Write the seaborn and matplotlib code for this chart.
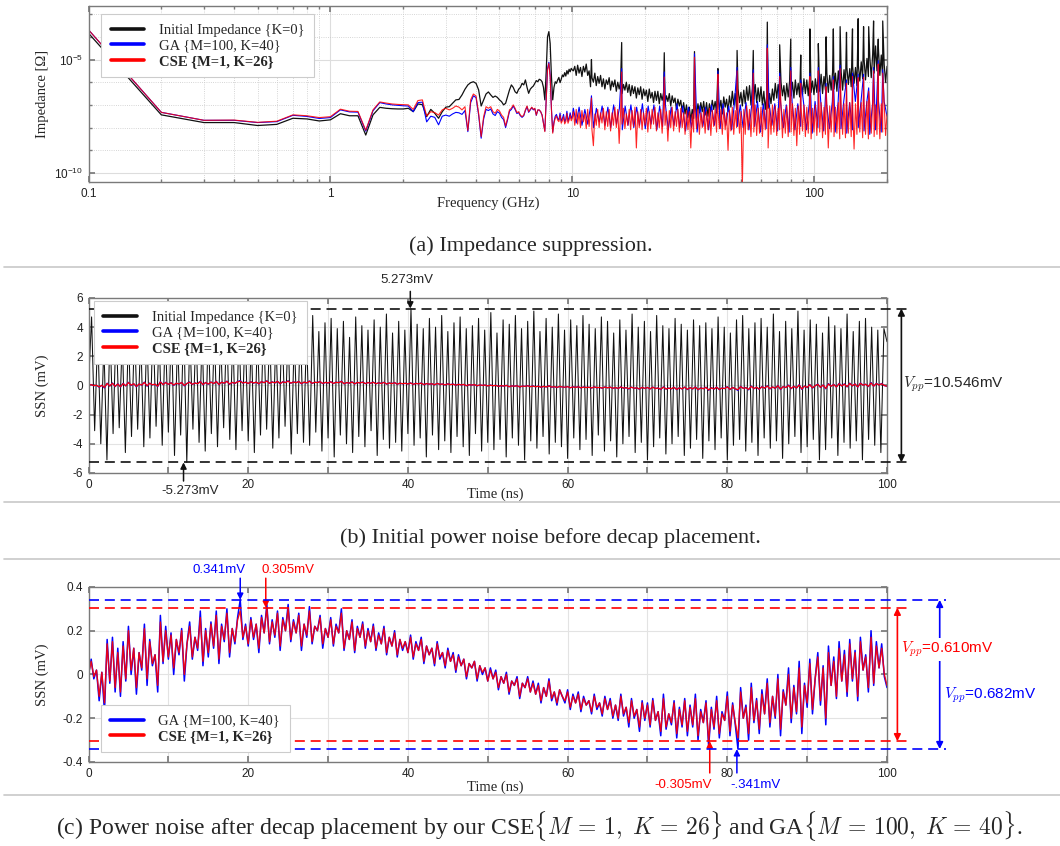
import numpy as np
import pandas as pd
import matplotlib
matplotlib.use("Agg")
import matplotlib.pyplot as plt
import seaborn as sns
from matplotlib.lines import Line2D
from matplotlib.ticker import FixedLocator, LogLocator, NullFormatter

# ---------------------------------------------------------------
# (a) impedance profile, values are log10(|Z| / ohm)
# ---------------------------------------------------------------
LOW_FREQ = [0.1, 0.2, 0.3, 0.4, 0.5, 0.6, 0.7, 0.8, 0.9, 1.0,
            1.1, 1.2, 1.3, 1.4, 1.5, 1.6, 1.7, 1.8, 1.9, 2.0]
LOW_INIT = [-3.84, -7.44, -7.78, -7.78, -7.91, -7.86, -7.59, -7.62, -7.71, -7.66,
            -7.39, -7.48, -7.48, -8.33, -7.44, -7.11, -7.15, -7.17, -7.18, -7.18]
LOW_GA = [-3.69, -7.33, -7.68, -7.68, -7.78, -7.74, -7.46, -7.51, -7.6, -7.56,
          -7.22, -7.31, -7.32, -8.16, -7.26, -6.9, -6.96, -7.0, -7.02, -7.04]
LOW_CSE = [-3.69, -7.33, -7.68, -7.67, -7.77, -7.72, -7.44, -7.48, -7.56, -7.52,
           -7.19, -7.28, -7.29, -8.12, -7.22, -6.87, -6.92, -6.96, -6.98, -6.99]

# 2.1 .. 10.0 GHz, 0.1 GHz step
MID_INIT = [-7.15, -7.3, -6.96, -6.99, -7.52, -7.2, -7.37, -7.59, -7.3, -7.1,
            -7.08, -6.93, -6.78, -6.76, -6.56, -6.31, -6.12, -6.02, -5.98, -6.05,
            -6.34, -7.05, -6.78, -6.52, -6.43, -6.56, -6.67, -6.61, -6.67, -6.78,
            -6.86, -7.0, -6.93, -6.64, -6.34, -6.12, -6.23, -6.42, -6.49, -6.31,
            -6.23, -6.05, -6.12, -5.9, -6.23, -6.49, -6.31, -6.23, -6.17, -6.05,
            -5.93, -5.98, -5.87, -5.9, -5.98, -6.23, -6.78, -5.54, -4.0, -3.77,
            -4.29, -5.76, -6.78, -6.23, -5.98, -6.05, -5.9, -5.79, -6.02, -5.87,
            -5.68, -5.76, -5.58, -5.73, -5.49, -5.64, -5.43, -5.54, -5.39, -5.46]
MID_GA = [-7.05, -7.3, -6.9, -6.88, -7.75, -7.5, -7.55, -7.88, -7.5, -7.45,
          -7.5, -7.4, -7.33, -7.35, -7.42, -7.25, -8.18, -6.9, -6.6, -6.68,
          -7.45, -8.47, -7.62, -7.2, -7.25, -7.18, -7.4, -7.47, -7.3, -7.36,
          -7.55, -7.65, -8.0, -7.66, -7.28, -7.2, -7.05, -7.2, -7.38, -7.34,
          -7.48, -7.55, -7.48, -7.25, -7.08, -7.33, -7.22, -7.12, -7.22, -7.17,
          -7.46, -7.23, -7.23, -7.3, -7.45, -7.8, -8.15, -6.75, -5.4, -5.12,
          -5.7, -7.18, -8.2, -7.75, -7.5, -7.42, -7.6, -7.66, -7.36, -7.72,
          -7.6, -7.42, -7.75, -7.64, -7.28, -7.72, -7.57, -7.35, -7.6, -7.5]
MID_CSE = [-7.0, -7.2, -6.81, -6.78, -7.49, -7.3, -7.34, -7.45, -7.22, -7.15,
           -7.22, -7.15, -7.05, -7.1, -7.22, -7.08, -8.13, -6.78, -6.52, -6.61,
           -7.37, -8.4, -7.52, -7.08, -7.15, -7.08, -7.3, -7.37, -7.2, -7.27,
           -7.45, -7.55, -7.93, -7.59, -7.22, -7.15, -7.0, -7.15, -7.34, -7.3,
           -7.45, -7.52, -7.45, -7.22, -7.05, -7.3, -7.2, -7.1, -7.2, -7.15,
           -7.45, -7.22, -7.22, -7.3, -7.45, -7.81, -8.18, -6.78, -5.46, -5.17,
           -5.76, -7.22, -8.25, -7.81, -7.59, -7.49, -7.67, -7.74, -7.45, -7.81,
           -7.7, -7.52, -7.84, -7.74, -7.37, -7.81, -7.67, -7.45, -7.7, -7.59]

# 10.1 .. 200 GHz, log spaced samples of the dense band
HIGH_INIT = [
    -5.5, -5.3, -5.7, -5.25, -5.6, -5.35, -5.75, -5.3, -5.55, -5.2,
    -5.7, -5.5, -6.2, -5.8, -6.0, -5.6, -6.15, -5.75, -6.05, -5.7,
    -6.2, -5.85, -6.3, -5.9, -6.1, -5.8, -6.35, -5.95, -6.2, -5.9,
    -6.4, -6.0, -6.3, -5.95, -6.5, -6.1, -6.35, -6.0, -6.45, -6.1,
    -6.6, -6.15, -6.5, -6.2, -6.7, -6.25, -6.55, -6.2, -6.75, -6.3,
    -6.6, -6.35, -6.85, -6.3, -6.7, -6.45, -6.9, -6.4, -6.8, -6.4,
    -6.95, -6.5, -6.8, -6.45, -7.0, -6.6, -6.85, -6.5, -7.05, -6.6,
    -6.9, -6.7, -7.2, -6.75, -7.05, -6.8, -7.3, -6.9, -7.4, -7.0,
    -7.55, -7.1, -7.7, -7.2, -7.6, -7.0, -7.45, -6.95, -7.35, -6.9,
    -7.3, -6.85, -7.45, -6.9, -7.5, -6.95, -7.3, -6.8, -7.2, -6.85,
    -7.35, -6.7, -7.2, -6.8, -7.4, -6.65, -7.1, -6.75, -7.3, -6.6,
    -7.1, -6.4, -7.0, -6.5, -7.2, -6.3, -6.9, -6.45, -7.05, -6.35,
    -6.95, -6.2, -6.8, -6.15, -7.0, -6.3, -6.75, -6.1, -6.9, -6.25,
    -6.85, -6.2, -7.0, -6.4, -7.2, -6.6, -7.15, -6.5, -6.95, -6.3,
    -6.8, -6.05, -6.7, -6.1, -6.75, -6.0, -6.6, -6.15, -6.8, -6.05,
    -6.65, -5.95, -6.6, -6.0, -6.7, -5.9, -6.55, -6.05, -6.65, -5.95,
    -6.55, -5.85, -6.5, -5.9, -6.6, -5.8, -6.45, -5.95, -6.55, -5.85,
    -6.45, -5.7, -6.4, -5.65, -6.5, -5.75, -6.35, -5.6, -6.45, -5.7,
    -6.35, -5.55, -6.3, -5.6, -6.4, -5.5, -6.25, -5.55, -6.35, -5.45,
    -6.2, -5.35, -6.1, -5.4, -6.2, -5.3, -6.05, -5.35, -6.15, -5.25,
    -5.95, -5.1, -5.85, -5.0, -5.9, -4.95, -5.75, -4.9, -5.8, -4.75,
    -5.6, -4.4, -5.5, -4.5, -5.7, -4.8, -5.9, -5.2, -6.0, -5.3]
HIGH_GA = [
    -7.15, -7.8, -7.1, -7.9, -7.2, -7.85, -7.05, -8.0, -7.15, -7.75,
    -7.05, -7.9, -7.1, -8.0, -7.0, -7.85, -7.15, -8.1, -7.05, -7.9,
    -7.0, -8.0, -7.1, -7.9, -6.95, -8.05, -7.05, -7.85, -7.0, -8.1,
    -7.05, -7.95, -7.0, -8.1, -7.1, -7.9, -6.95, -8.0, -7.05, -8.15,
    -7.1, -8.0, -7.15, -8.2, -7.05, -7.95, -7.1, -8.1, -7.0, -7.9,
    -7.0, -8.05, -6.95, -7.9, -7.05, -8.1, -6.9, -7.95, -7.0, -8.0,
    -6.9, -8.1, -7.0, -7.95, -6.85, -8.2, -6.95, -8.05, -6.9, -7.9,
    -6.95, -8.15, -6.9, -8.0, -7.0, -8.2, -6.85, -8.1, -6.95, -7.95,
    -6.9, -8.1, -6.95, -8.25, -6.85, -8.0, -6.9, -8.15, -6.95, -8.05,
    -6.85, -8.2, -6.9, -8.05, -6.8, -8.25, -6.9, -8.1, -6.85, -8.0,
    -6.8, -8.15, -6.85, -8.3, -6.9, -8.1, -6.8, -8.2, -6.85, -7.5]
HIGH_CSE = [
    -7.3, -7.9, -7.2, -7.85, -7.35, -8.0, -7.25, -7.75, -7.4, -8.05,
    -7.2, -7.95, -7.3, -8.1, -8.8, -7.4, -7.9, -7.2, -8.0, -7.35,
    -7.8, -7.15, -8.1, -7.3, -7.95, -7.2, -8.15, -7.35, -7.9, -7.1,
    -8.0, -7.2, -8.7, -7.3, -7.85, -7.15, -8.05, -7.4, -7.9, -7.2,
    -8.1, -7.25, -7.95, -7.1, -8.9, -7.3, -8.0, -7.2, -8.1, -7.35,
    -7.9, -7.15, -8.2, -7.3, -8.05, -7.2, -7.85, -7.1, -8.15, -7.35,
    -8.0, -7.2, -8.25, -7.15, -7.9, -7.3, -8.6, -7.25, -8.0, -7.1,
    -8.15, -7.3, -7.95, -7.2, -8.2, -7.15, -8.0, -7.35, -8.3, -7.25,
    -8.1, -7.3, -8.9, -7.4, -8.2, -7.25, -8.05, -7.2, -8.3, -7.35,
    -8.0, -7.2, -8.25, -7.3, -8.1, -7.15, -8.35, -7.25, -7.95, -7.2,
    -8.2, -7.3, -8.05, -7.2, -8.3, -7.15, -8.1, -7.35, -9.0, -7.25,
    -8.15, -7.1, -8.3, -7.25, -8.0, -7.15, -8.25, -7.3, -10.6, -7.2,
    -8.3, -7.05, -8.1, -7.2, -8.4, -7.1, -8.2, -7.0, -8.35, -7.15,
    -8.25, -7.1, -8.4, -7.2, -8.1, -7.05, -8.9, -7.15, -8.3, -7.0,
    -8.2, -7.05, -8.35, -7.15, -8.1, -7.0, -8.45, -7.2, -8.25, -7.05,
    -8.4, -7.1, -8.2, -6.95, -8.35, -7.15, -8.8, -7.05, -8.3, -7.1,
    -8.15, -7.0, -8.4, -7.1, -8.25, -6.95, -8.5, -7.15, -8.2, -7.0,
    -8.35, -7.05, -8.2, -6.9, -8.45, -7.1, -8.3, -7.0, -8.9, -7.05,
    -8.2, -6.95, -8.4, -7.1, -8.25, -6.9, -8.5, -7.0, -8.3, -6.95,
    -8.45, -7.05, -8.25, -6.9, -8.4, -7.0, -8.95, -6.95, -8.3, -7.05,
    -8.2, -6.9, -8.45, -7.0, -8.3, -6.85, -8.5, -6.95, -8.25, -6.9,
    -8.4, -7.0, -8.3, -6.85, -8.5, -6.95, -8.2, -6.9, -8.35, -7.4]

# narrow resonance spikes (GHz) and their heights
SPIKE_FREQ = [12, 16, 24, 32, 40, 48, 56, 64, 72, 80, 88, 96,
              104, 112, 120, 128, 136, 144, 152, 160, 168, 176, 184, 192]
SPIKE_INIT = [-5.0, -4.25, -4.7, -4.65, -5.4, -4.6, -4.6, -3.35, -4.35, -4.1, -4.8, -3.65,
              -4.3, -4.0, -3.65, -3.55, -3.8, -3.65, -3.2, -3.55, -3.55, -3.3, -4.1, -3.3]
SPIKE_GA = [-6.6, -5.4, -5.55, -4.75, -5.5, -5.35, -5.45, -4.35, -5.6, -5.35, -5.9, -5.6,
            -5.35, -6.05, -5.75, -5.25, -5.9, -5.6, -5.65, -5.65, -6.25, -5.35, -5.05, -5.45]
SPIKE_CSE = [-6.7, -5.55, -5.77, -4.9, -5.65, -5.5, -5.6, -4.5, -5.75, -5.5, -6.05, -5.75,
             -5.5, -6.2, -5.9, -5.4, -6.05, -5.75, -5.8, -5.8, -6.4, -5.5, -5.2, -5.6]

# ---------------------------------------------------------------
# (b) initial SSN (mV), 0..100 ns
# ---------------------------------------------------------------
SSN_INIT = [
    0.0, 4.7, -3.1, 3.6, -4.0, 2.8, -5.1, 3.9, -3.3, 4.3, -2.9, 3.2, -4.6, 3.7, -3.5, 4.0, -3.0, 3.4, -4.2, 3.8,
    -3.6, 4.5, -2.8, 3.5, -4.1, 3.9, -3.2, 4.2, -4.8, 3.3, -3.4, 4.4, -5.273, 3.6, -3.0, 4.1, -3.9, 3.5, -4.5, 4.0,
    -3.3, 3.8, -4.2, 3.4, -2.9, 4.3, -3.7, 3.6, -4.4, 3.9, -3.1, 4.1, -3.8, 3.3, -4.6, 3.7, -3.4, 4.4, -3.0, 3.8,
    -4.3, 3.5, -3.6, 4.6, -2.8, 3.9, -4.7, 3.4, -3.3, 4.2, -3.9, 3.6, -4.1, 4.8, -3.2, 3.7, -4.5, 4.3, -3.6, 4.6,
    -4.9, 3.9, -3.4, 4.4, -4.0, 3.3, -4.6, 4.7, -3.5, 4.1, -4.2, 3.8, -3.1, 4.5, -4.8, 4.0, -3.7, 4.9, -4.3, 3.6,
    -3.9, 4.4, -4.5, 3.8, -3.3, 5.273, -4.1, 4.2, -3.6, 3.9, -4.9, 4.6, -3.4, 4.0, -4.4, 4.8, -3.8, 3.7, -4.6, 4.3,
    -3.5, 4.7, -4.2, 3.9, -4.8, 4.1, -3.3, 4.6, -4.5, 3.8, -3.9, 5.0, -4.4, 3.6, -3.7, 4.5, -4.9, 4.2, -3.6, 4.8,
    -4.1, 3.9, -5.1, 4.4, -3.8, 5.1, -4.3, 3.7, -3.5, 4.6, -4.7, 4.0, -3.9, 4.9, -4.2, 3.8, -5.0, 4.5, -3.6, 4.1,
    -4.4, 4.8, -3.7, 4.2, -4.8, 3.9, -3.4, 4.7, -4.5, 4.4, -3.8, 3.6, -4.9, 4.5, -4.0, 3.8, -3.5, 4.9, -4.6, 4.0,
    -3.9, 4.4, -5.1, 3.7, -4.2, 4.8, -3.6, 4.1, -4.7, 3.9, -4.0, 4.6, -3.5, 4.2, -4.8, 3.8, -4.3, 4.5, -3.7, 4.1,
    -5.0, 4.3, -3.8, 3.9, -4.4, 4.7, -3.6, 4.0, -5.1, 3.6, -4.1, 4.5, -3.7, 4.8, -4.5, 3.9, -3.9, 4.3, -4.8, 4.6,
    -3.6, 4.0, -4.3, 4.9, -3.8, 3.7, -5.0, 4.4, -4.0, 3.9, -3.5, 5.1, -4.6, 3.8, -4.2, 4.5, -3.7, 4.2, -5.1, 3.6,
    -4.4, 4.7, -3.6, 4.1, -4.8, 3.9, -3.9, 4.9, -4.3, 3.7, -3.8, 4.4, -5.1, 4.6, -3.7, 4.0, -4.1, 3.8, -4.6, 3.9,
    3.0]

# ---------------------------------------------------------------
# (c) SSN after decap placement (mV), 0..100 ns
# ---------------------------------------------------------------
SSN_GA = [
    0.0, 0.07, -0.02, 0.02, -0.12, 0.01, -0.17, 0.16, -0.04, 0.17, -0.08, 0.12, -0.1, 0.15, -0.03,
    0.22, 0.0, 0.12, -0.09, 0.1, 0.02, 0.23, -0.05, 0.16, 0.04, 0.09, -0.08, 0.27, 0.05, 0.22,
    0.07, 0.19, 0.0, 0.16, 0.09, 0.21, -0.03, 0.14, 0.24, 0.07, 0.17, 0.11, 0.29, 0.04, 0.21,
    0.08, 0.24, 0.12, 0.29, 0.05, 0.23, 0.15, 0.3, 0.08, 0.21, 0.14, 0.26, 0.341, 0.16, 0.23,
    0.13, 0.26, 0.16, 0.23, 0.1, 0.27, 0.19, 0.32, 0.14, 0.25, 0.17, 0.29, 0.11, 0.26, 0.2,
    0.32, 0.15, 0.25, 0.19, 0.28, 0.11, 0.23, 0.17, 0.31, 0.14, 0.22, 0.2, 0.27, 0.12, 0.21,
    0.17, 0.26, 0.13, 0.23, 0.19, 0.3, 0.11, 0.2, 0.16, 0.25, 0.1, 0.22, 0.17, 0.24, 0.12,
    0.21, 0.15, 0.23, 0.11, 0.19, 0.14, 0.22, 0.09, 0.17, 0.13, 0.2, 0.08, 0.16, 0.11, 0.15,
    0.1, 0.18, 0.07, 0.15, 0.11, 0.17, 0.05, 0.13, 0.09, 0.12, 0.04, 0.15, 0.07, 0.1, 0.03,
    0.12, 0.06, 0.1, 0.01, 0.09, 0.04, 0.07, -0.02, 0.05, 0.03, 0.06, -0.03, 0.04, 0.0, 0.03,
    -0.03, 0.03, -0.02, 0.02, -0.07, -0.01, -0.04, 0.01, -0.09, -0.03, -0.05, -0.01, -0.11, -0.04, -0.06,
    -0.01, -0.08, -0.03, -0.09, -0.04, -0.13, -0.06, -0.1, -0.02, -0.12, -0.08, -0.14, -0.07, -0.1, -0.13,
    -0.07, -0.16, -0.09, -0.13, -0.08, -0.17, -0.1, -0.14, -0.12, -0.18, -0.09, -0.16, -0.13, -0.19, -0.1,
    -0.16, -0.11, -0.2, -0.14, -0.21, -0.09, -0.19, -0.15, -0.24, -0.11, -0.2, -0.16, -0.26, -0.12, -0.21,
    -0.13, -0.24, -0.11, -0.21, -0.17, -0.28, -0.09, -0.25, -0.18, -0.23, -0.12, -0.29, -0.15, -0.24, -0.11,
    -0.28, -0.14, -0.24, -0.09, -0.3, -0.16, -0.22, -0.12, -0.33, -0.15, -0.25, -0.1, -0.29, -0.17, -0.21,
    -0.08, -0.28, -0.13, -0.23, -0.341, -0.06, -0.2, -0.14, -0.3, -0.04, -0.22, -0.11, -0.27, -0.07, -0.18,
    -0.02, -0.24, -0.1, -0.2, 0.0, -0.28, -0.07, -0.14, 0.03, -0.22, -0.05, -0.18, 0.06, -0.27, -0.04,
    -0.15, 0.07, -0.18, -0.02, 0.1, -0.14, 0.04, -0.23, 0.13, -0.05, 0.08, -0.11, 0.15, -0.03, 0.11,
    -0.1, 0.16, -0.03, 0.11, -0.12, 0.17, 0.02, 0.09, -0.08, 0.2, -0.05, 0.15, 0.03, 0.14, -0.01,
    -0.06]
SSN_CSE = [
    0.0, 0.06, -0.01, 0.02, -0.1, 0.01, -0.13, 0.14, -0.03, 0.15, -0.06, 0.1, -0.08, 0.13, -0.02,
    0.2, 0.02, 0.12, -0.06, 0.1, 0.03, 0.21, -0.02, 0.15, 0.05, 0.09, -0.05, 0.24, 0.06, 0.2,
    0.08, 0.18, 0.03, 0.16, 0.1, 0.2, 0.0, 0.14, 0.22, 0.08, 0.17, 0.12, 0.26, 0.06, 0.2,
    0.1, 0.23, 0.13, 0.27, 0.07, 0.22, 0.16, 0.28, 0.1, 0.21, 0.15, 0.25, 0.29, 0.17, 0.22,
    0.14, 0.25, 0.17, 0.23, 0.12, 0.26, 0.19, 0.305, 0.15, 0.24, 0.18, 0.28, 0.13, 0.25, 0.2,
    0.3, 0.16, 0.24, 0.19, 0.27, 0.13, 0.23, 0.18, 0.29, 0.15, 0.22, 0.2, 0.26, 0.14, 0.21,
    0.17, 0.25, 0.14, 0.22, 0.19, 0.28, 0.12, 0.2, 0.16, 0.24, 0.11, 0.21, 0.17, 0.23, 0.13,
    0.2, 0.15, 0.22, 0.12, 0.18, 0.14, 0.21, 0.1, 0.17, 0.13, 0.19, 0.09, 0.16, 0.12, 0.15,
    0.1, 0.17, 0.08, 0.14, 0.11, 0.16, 0.06, 0.13, 0.09, 0.12, 0.05, 0.14, 0.08, 0.1, 0.04,
    0.11, 0.06, 0.09, 0.02, 0.08, 0.04, 0.07, -0.01, 0.05, 0.03, 0.06, -0.02, 0.04, 0.01, 0.03,
    -0.03, 0.02, -0.02, 0.01, -0.06, -0.01, -0.04, 0.0, -0.08, -0.03, -0.05, -0.02, -0.1, -0.04, -0.06,
    -0.02, -0.08, -0.04, -0.09, -0.05, -0.12, -0.06, -0.1, -0.03, -0.11, -0.08, -0.13, -0.07, -0.1, -0.12,
    -0.08, -0.15, -0.1, -0.13, -0.09, -0.16, -0.11, -0.14, -0.12, -0.17, -0.1, -0.15, -0.13, -0.18, -0.11,
    -0.16, -0.12, -0.19, -0.14, -0.2, -0.1, -0.18, -0.15, -0.22, -0.12, -0.19, -0.16, -0.24, -0.13, -0.2,
    -0.14, -0.23, -0.12, -0.21, -0.17, -0.26, -0.11, -0.24, -0.18, -0.22, -0.13, -0.27, -0.16, -0.23, -0.12,
    -0.26, -0.15, -0.23, -0.11, -0.28, -0.17, -0.22, -0.13, -0.305, -0.16, -0.24, -0.12, -0.27, -0.18, -0.21,
    -0.1, -0.26, -0.14, -0.22, -0.29, -0.08, -0.2, -0.15, -0.27, -0.06, -0.21, -0.12, -0.25, -0.09, -0.18,
    -0.04, -0.22, -0.1, -0.19, -0.02, -0.25, -0.08, -0.14, 0.0, -0.2, -0.06, -0.17, 0.03, -0.24, -0.05,
    -0.13, 0.05, -0.16, -0.02, 0.08, -0.12, 0.03, -0.2, 0.1, -0.05, 0.06, -0.1, 0.12, -0.03, 0.09,
    -0.08, 0.14, -0.02, 0.1, -0.1, 0.15, 0.02, 0.08, -0.06, 0.17, -0.04, 0.13, 0.03, 0.12, 0.0,
    -0.05]

# peak values (mV) and peak-to-peak labels
PEAK_INIT = 5.273
PEAK_GA = 0.341
PEAK_CSE = 0.305
VPP_INIT = "10.546"
VPP_GA = "0.682"
VPP_CSE = "0.610"

TIME_TICKS = [0, 10, 20, 30, 40, 50, 60, 70, 80, 90, 100]
TIME_LABELS = ["0", "", "20", "", "40", "", "60", "", "80", "", "100"]

LABELS = ["Initial Impedance {K=0}", "GA {M=100, K=40}", "CSE {M=1, K=26}"]
CAPTIONS = ["(a) Impedance suppression.",
            "(b) Initial power noise before decap placement.",
            r"(c) Power noise after decap placement by our CSE$\{M\,=\,1,\;K\,=\,26\}$"
            r" and GA$\{M\,=\,100,\;K\,=\,40\}$."]

BLACK = "#111111"
BLUE = "#0000ff"
RED = "#ff0000"
FRAME = "#7a7a7a"
SERIF = ["Liberation Serif", "DejaVu Serif"]

sns.set_theme(style="ticks")
plt.rcParams["font.family"] = ["Liberation Sans", "DejaVu Sans"]
plt.rcParams["mathtext.fontset"] = "cm"
plt.rcParams["axes.unicode_minus"] = False


def style_axes(ax):
    for sp in ax.spines.values():
        sp.set_color(FRAME)
        sp.set_linewidth(1.0)
    ax.tick_params(which="both", direction="in", top=True, right=True,
                   color=FRAME, labelsize=8.5, labelcolor="#222222", pad=4)
    ax.tick_params(which="major", length=4)
    ax.tick_params(which="minor", length=2)


def impedance_frame(low, mid, high, spikes):
    f = np.concatenate([LOW_FREQ, np.linspace(2.1, 10.0, len(mid)),
                        np.geomspace(10.1, 200, len(high)), SPIKE_FREQ])
    z = np.concatenate([low, mid, high, spikes])
    return pd.DataFrame({"freq": f, "z": 10.0 ** z})


def add_legend(ax, anchor, bold_idx):
    leg = ax.legend(loc="upper left", bbox_to_anchor=anchor, borderaxespad=0,
                    prop={"family": SERIF, "size": 10.5}, frameon=True, fancybox=False,
                    edgecolor="#cccccc", framealpha=1, handlelength=2.3,
                    handletextpad=1.0, borderpad=0.65, labelspacing=0.15)
    leg.get_frame().set_linewidth(0.8)
    for line in leg.get_lines():
        line.set_linewidth(2.6)
        line.set_alpha(1)
    leg.get_texts()[bold_idx].set_fontweight("bold")
    return leg


def time_axis(ax):
    ax.set_xlim(0, 100)
    ax.xaxis.set_major_locator(FixedLocator(TIME_TICKS))
    ax.set_xticklabels(TIME_LABELS)
    ax.grid(which="major", color="#e3e3e3", lw=0.8)
    style_axes(ax)
    ax.set_xlabel("Time (ns)", family=SERIF, fontsize=10.5)
    ax.set_ylabel("SSN (mV)", family=SERIF, fontsize=10.5)
    ax.yaxis.set_label_coords(-0.05, 0.5)


fig = plt.figure(figsize=(10.6, 8.46), dpi=100)
ax_a = fig.add_axes([0.0835, 0.7849, 0.7533, 0.2080])
ax_b = fig.add_axes([0.0835, 0.4409, 0.7533, 0.2069])
ax_c = fig.add_axes([0.0835, 0.0993, 0.7533, 0.2069])

# ---------------- (a) ----------------
ax_a.set_xscale("log")
ax_a.set_yscale("log")
df_init = impedance_frame(LOW_INIT, MID_INIT, HIGH_INIT, SPIKE_INIT)
df_ga = impedance_frame(LOW_GA, MID_GA, HIGH_GA, SPIKE_GA)
df_cse = impedance_frame(LOW_CSE, MID_CSE, HIGH_CSE, SPIKE_CSE)
sns.lineplot(data=df_init, x="freq", y="z", ax=ax_a, color=BLACK, lw=0.9,
             estimator=None, sort=True, label=LABELS[0])
sns.lineplot(data=df_ga, x="freq", y="z", ax=ax_a, color=BLUE, lw=0.8,
             estimator=None, sort=True, label=LABELS[1])
sns.lineplot(data=df_cse, x="freq", y="z", ax=ax_a, color=RED, lw=0.8, alpha=0.85,
             estimator=None, sort=True, label=LABELS[2])
ax_a.set_xlim(0.1, 200)
ax_a.set_ylim(10 ** -10.4, 10 ** -2.64)
ax_a.xaxis.set_major_locator(FixedLocator([0.1, 1, 10, 100]))
ax_a.set_xticklabels(["0.1", "1", "10", "100"])
ax_a.xaxis.set_minor_locator(LogLocator(base=10, subs=np.arange(2, 10), numticks=20))
ax_a.xaxis.set_minor_formatter(NullFormatter())
ax_a.yaxis.set_major_locator(FixedLocator([1e-10, 1e-5]))
ax_a.set_yticklabels([r"$\mathregular{10^{-10}}$", r"$\mathregular{10^{-5}}$"])
ax_a.yaxis.set_minor_locator(LogLocator(base=10, subs=[1.0], numticks=20))
ax_a.yaxis.set_minor_formatter(NullFormatter())
ax_a.grid(which="major", color="#dddddd", lw=0.8)
ax_a.grid(which="minor", color="#c8c8c8", lw=0.6, ls=":")
style_axes(ax_a)
ax_a.set_xlabel("Frequency (GHz)", family=SERIF, fontsize=10.5)
ax_a.set_ylabel("Impedance [Ω]", family=SERIF, fontsize=10.5)
ax_a.xaxis.set_label_coords(0.5, -0.085)
ax_a.yaxis.set_label_coords(-0.05, 0.5)
add_legend(ax_a, (0.0157, 0.953), 2)

# ---------------- (b) ----------------
t_init = np.linspace(0, 100, len(SSN_INIT))
t_ga = np.linspace(0, 100, len(SSN_GA))
t_cse = np.linspace(0, 100, len(SSN_CSE))
sns.lineplot(x=t_init, y=SSN_INIT, ax=ax_b, color=BLACK, lw=0.75,
             estimator=None, sort=False, label=LABELS[0])
sns.lineplot(x=t_ga, y=SSN_GA, ax=ax_b, color=BLUE, lw=0.9,
             estimator=None, sort=False, label=LABELS[1])
sns.lineplot(x=t_cse, y=SSN_CSE, ax=ax_b, color=RED, lw=0.9,
             estimator=None, sort=False, label=LABELS[2])
ax_b.set_ylim(-6, 6)
ax_b.yaxis.set_major_locator(FixedLocator([-6, -4, -2, 0, 2, 4, 6]))
ax_b.set_yticklabels(["-6", "-4", "-2", "0", "2", "4", "6"])
time_axis(ax_b)
ax_b.xaxis.set_label_coords(0.509, -0.085)
add_legend(ax_b, (0.0069, 0.98), 2)

dash = dict(ls=(0, (6, 3.5)), lw=1.2, clip_on=False, zorder=4)
arrow = dict(arrowstyle="-|>", lw=1.1, mutation_scale=9, shrinkA=0, shrinkB=0)
double = dict(arrowstyle="<|-|>", lw=1.2, mutation_scale=10, shrinkA=0, shrinkB=0)

ax_b.hlines([PEAK_INIT, -PEAK_INIT], 0, 102.7, colors=BLACK, **dash)
ax_b.annotate("", xy=(40.3, PEAK_INIT), xytext=(40.3, 6.45), annotation_clip=False,
              arrowprops=dict(color=BLACK, **arrow))
ax_b.text(39.9, 7.25, "5.273mV", ha="center", va="center", fontsize=9.5)
ax_b.annotate("", xy=(11.9, -PEAK_INIT), xytext=(11.9, -6.55), annotation_clip=False,
              arrowprops=dict(color=BLACK, **arrow))
ax_b.text(12.7, -7.2, "-5.273mV", ha="center", va="center", fontsize=9.5)
ax_b.annotate("", xy=(101.8, -PEAK_INIT), xytext=(101.8, PEAK_INIT), annotation_clip=False,
              arrowprops=dict(color=BLACK, **double))
ax_b.text(102.0, 0.05, r"$V_{pp}$=" + VPP_INIT + "mV", ha="left", va="center",
          fontsize=11, clip_on=False)

# ---------------- (c) ----------------
sns.lineplot(x=t_ga, y=SSN_GA, ax=ax_c, color=BLUE, lw=1.1,
             estimator=None, sort=False, label=LABELS[1])
sns.lineplot(x=t_cse, y=SSN_CSE, ax=ax_c, color=RED, lw=1.0, alpha=0.9,
             estimator=None, sort=False, label=LABELS[2])
ax_c.set_ylim(-0.4, 0.4)
ax_c.yaxis.set_major_locator(FixedLocator([-0.4, -0.2, 0, 0.2, 0.4]))
ax_c.set_yticklabels(["-0.4", "-0.2", "0", "0.2", "0.4"])
time_axis(ax_c)
ax_c.xaxis.set_label_coords(0.509, -0.105)
add_legend(ax_c, (0.0153, 0.326), 1)

ax_c.hlines([PEAK_GA, -PEAK_GA], 0, 107.4, colors=BLUE, **dash)
ax_c.hlines([PEAK_CSE, -PEAK_CSE], 0, 102.6, colors=RED, **dash)

ax_c.annotate("", xy=(19.0, PEAK_GA), xytext=(19.0, 0.44), annotation_clip=False,
              arrowprops=dict(color=BLUE, **arrow))
ax_c.text(16.4, 0.478, "0.341mV", color=BLUE, ha="center", va="center", fontsize=9.5)
ax_c.annotate("", xy=(22.2, PEAK_CSE), xytext=(22.2, 0.44), annotation_clip=False,
              arrowprops=dict(color=RED, **arrow))
ax_c.text(25.0, 0.478, "0.305mV", color=RED, ha="center", va="center", fontsize=9.5)
ax_c.annotate("", xy=(77.8, -PEAK_CSE), xytext=(77.8, -0.45), annotation_clip=False,
              arrowprops=dict(color=RED, **arrow))
ax_c.text(74.5, -0.504, "-0.305mV", color=RED, ha="center", va="center", fontsize=9.5)
ax_c.annotate("", xy=(81.2, -PEAK_GA), xytext=(81.2, -0.45), annotation_clip=False,
              arrowprops=dict(color=BLUE, **arrow))
ax_c.text(83.5, -0.504, "-.341mV", color=BLUE, ha="center", va="center", fontsize=9.5)

ax_c.annotate("", xy=(106.6, -PEAK_GA), xytext=(106.6, PEAK_GA), annotation_clip=False,
              arrowprops=dict(color=BLUE, **double), zorder=3)
ax_c.annotate("", xy=(101.3, -PEAK_CSE), xytext=(101.3, PEAK_CSE), annotation_clip=False,
              arrowprops=dict(color=RED, **double), zorder=3)
ax_c.text(101.8, 0.114, r"$V_{pp}$=" + VPP_CSE + "mV", color=RED, ha="left", va="center",
          fontsize=11, clip_on=False, zorder=6,
          bbox=dict(fc="white", ec="none", pad=1.5))
ax_c.text(107.2, -0.094, r"$V_{pp}$=" + VPP_GA + "mV", color=BLUE, ha="left", va="center",
          fontsize=11, clip_on=False, zorder=6)

# ---------------- captions and separators ----------------
for y in [0.6844, 0.4066, 0.3392, 0.0603]:
    fig.add_artist(Line2D([0.004, 1.0], [y, y], color="#c8c8c8", lw=1.2))
fig.text(0.501, 0.709, CAPTIONS[0], ha="center", va="center", family=SERIF, fontsize=16)
fig.text(0.519, 0.364, CAPTIONS[1], ha="center", va="center", family=SERIF, fontsize=16)
fig.text(0.509, 0.0236, CAPTIONS[2], ha="center", va="center", family=SERIF, fontsize=17)

fig.savefig("out.png", dpi=100)
